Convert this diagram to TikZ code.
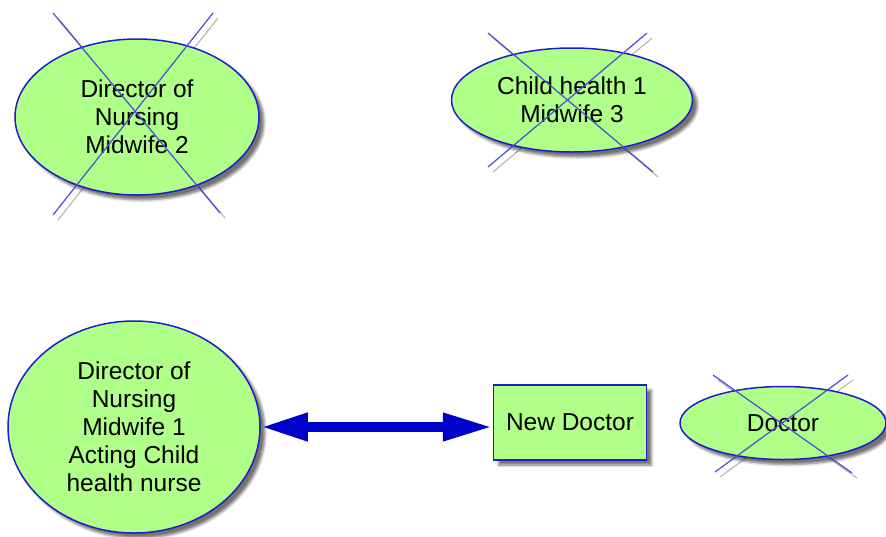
\documentclass[tikz,border=0pt]{standalone}
\usepackage{fontspec}
\setmainfont{Liberation Sans}
\usetikzlibrary{shapes.geometric,arrows.meta,shadows.blur}
\definecolor{nodefill}{RGB}{176,255,136}
\definecolor{nodeline}{RGB}{30,30,200}
\definecolor{crossline}{RGB}{75,75,212}
\definecolor{crossshade}{RGB}{185,185,185}
\definecolor{arrowblue}{RGB}{0,0,204}
\tikzset{
  softshadow/.style={blur shadow={shadow xshift=5pt, shadow yshift=-5pt,
      shadow blur radius=2.5pt, shadow opacity=55}},
  label font/.style={font=\fontsize{24.5}{28}\selectfont, text=black},
  role/.style={ellipse, draw=nodeline, line width=1.5pt, fill=nodefill,
      inner sep=0pt, align=center, label font, softshadow},
  rolebox/.style={rectangle, draw=nodeline, line width=1.5pt, fill=nodefill,
      inner sep=0pt, align=center, label font, softshadow},
  strike/.style={crossline, line width=1.2pt},
  strikeshade/.style={crossshade, line width=1.2pt},
  link/.style={arrowblue, line width=10pt,
      {Triangle[length=47pt,width=26pt]}-{Triangle[length=50pt,width=26pt]}},
}
\begin{document}
\begin{tikzpicture}[x=1pt,y=-1pt]
\useasboundingbox (0,0) rectangle (886,536);

\coordinate (c1) at (137,117);
\coordinate (c2) at (572,100);
\coordinate (c3) at (134,427);
\coordinate (c4) at (570,422.5);
\coordinate (c5) at (783,423);

% grey shade under the strike-through lines
\begin{scope}[shift={(c1)}]
  \draw[strikeshade] (-79,-99) -- (88,101);
  \draw[strikeshade] (81,-99) -- (-79,103);
\end{scope}
\begin{scope}[shift={(c2)}]
  \draw[strikeshade] (-79,-62) -- (86,77);
  \draw[strikeshade] (80,-62) -- (-79,72);
\end{scope}
\begin{scope}[shift={(c5)}]
  \draw[strikeshade] (-65,-43) -- (74,55);
  \draw[strikeshade] (70,-43) -- (-63,54);
\end{scope}

% role nodes
\node[role, minimum width=244pt, minimum height=156pt] (dnm2) at (c1)
  {Director of\\Nursing\\Midwife 2};
\node[role, minimum width=241pt, minimum height=104pt] (chm3) at (c2)
  {Child health 1\\Midwife 3};
\node[role, minimum width=252pt, minimum height=212pt] (dnm1) at (c3)
  {Director of\\Nursing\\Midwife 1\\Acting Child\\health nurse};
\node[rolebox, minimum width=153pt, minimum height=75pt] (newdoc) at (c4)
  {New Doctor};
\node[role, minimum width=206pt, minimum height=73pt] (doc) at (c5)
  {Doctor};

% strike-through crosses
\begin{scope}[shift={(c1)}]
  \draw[strike] (-84,-104) -- (83,96);
  \draw[strike] (76,-104) -- (-84,98);
\end{scope}
\begin{scope}[shift={(c2)}]
  \draw[strike] (-84,-67) -- (81,72);
  \draw[strike] (75,-67) -- (-84,67);
\end{scope}
\begin{scope}[shift={(c5)}]
  \draw[strike] (-70,-48) -- (69,50);
  \draw[strike] (65,-48) -- (-68,49);
\end{scope}

% two-way link
\draw[link] (dnm1.east) -- (dnm1.east -| newdoc.west);
\end{tikzpicture}
\end{document}
